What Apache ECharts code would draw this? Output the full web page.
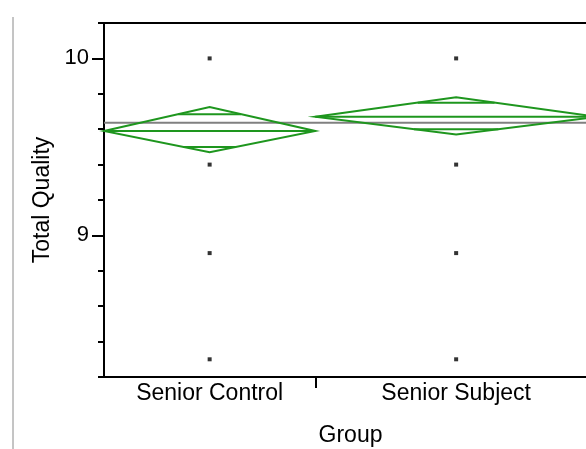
<!DOCTYPE html>
<html>
<head>
<meta charset="utf-8">
<script src="https://cdn.jsdelivr.net/npm/echarts@6/dist/echarts.min.js"></script>
<style>
  html, body { margin: 0; padding: 0; background: #fff; }
  #chart { width: 586px; height: 449px; }
</style>
</head>
<body>
<div id="chart"></div>
<script>
// Group means with confidence diamonds (Total Quality by Group)
const groupNames = ['Senior Control', 'Senior Subject'];
const groupCounts = [30, 40];            // band widths are proportional to group size
const groupMeans = [9.59, 9.67];
const ciLower = [9.47, 9.57];
const ciUpper = [9.725, 9.78];
const overlapLower = [9.50, 9.60];
const overlapUpper = [9.685, 9.75];
const grandMean = 9.637;
const controlScores = [10, 9.4, 8.9, 8.3];
const subjectScores = [10, 9.4, 8.9, 8.3];
const yTickLabels = [9, 10];

const FONT = 'Liberation Sans, Arial, sans-serif';
const GREEN = '#1e961e';

// band geometry along the x value axis
const bandStart = [];
const bandEnd = [];
let acc = 0;
groupCounts.forEach(n => { bandStart.push(acc); acc += n; bandEnd.push(acc); });
const total = acc;
const bandCenter = bandStart.map((s, i) => (s + bandEnd[i]) / 2);
const dividers = bandEnd.slice(0, -1);

const diamondData = groupNames.map((g, i) => [
  bandStart[i], bandEnd[i], groupMeans[i], ciLower[i], ciUpper[i], overlapLower[i], overlapUpper[i]
]);

function renderDiamond(params, api) {
  const x0 = api.value(0), x1 = api.value(1), m = api.value(2);
  const lo = api.value(3), hi = api.value(4), olo = api.value(5), ohi = api.value(6);
  const xc = (x0 + x1) / 2, half = (x1 - x0) / 2;
  const L = api.coord([x0, m]), R = api.coord([x1, m]);
  const T = api.coord([xc, hi]), B = api.coord([xc, lo]);
  const style = { stroke: GREEN, lineWidth: 2, fill: null };
  // overlap marks sit where the diamond is as wide as the mark
  const wU = half * (1 - (ohi - m) / (hi - m));
  const wL = half * (1 - (m - olo) / (m - lo));
  const u0 = api.coord([xc - wU, ohi]), u1 = api.coord([xc + wU, ohi]);
  const l0 = api.coord([xc - wL, olo]), l1 = api.coord([xc + wL, olo]);
  return {
    type: 'group',
    children: [
      { type: 'polygon', shape: { points: [L, T, R, B] }, style },
      { type: 'line', shape: { x1: L[0], y1: L[1], x2: R[0], y2: R[1] }, style },
      { type: 'line', shape: { x1: u0[0], y1: u0[1], x2: u1[0], y2: u1[1] }, style },
      { type: 'line', shape: { x1: l0[0], y1: l0[1], x2: l1[0], y2: l1[1] }, style }
    ]
  };
}

const chart = echarts.init(document.getElementById('chart'), null, { renderer: 'canvas' });

chart.setOption({
  animation: false,
  backgroundColor: '#fff',
  graphic: [{
    type: 'line',
    shape: { x1: 13, y1: 17, x2: 13, y2: 449 },
    style: { stroke: '#8a8a8a', lineWidth: 1 }
  }],
  grid: {
    left: 104, top: 23, width: 493, height: 354,
    outerBoundsMode: 'none',
    containLabel: false,
    show: true, borderColor: '#000', borderWidth: 2, backgroundColor: 'transparent'
  },
  xAxis: {
    type: 'value',
    min: 0, max: total,
    position: 'bottom',
    name: 'Group',
    nameLocation: 'middle',
    nameGap: 47,
    nameTextStyle: { color: '#000', fontSize: 23, fontFamily: FONT },
    axisLine: { show: true, lineStyle: { color: '#000', width: 2 } },
    axisTick: { show: true, customValues: dividers, length: 11, lineStyle: { color: '#000', width: 2 } },
    axisLabel: {
      show: true,
      customValues: bandCenter,
      margin: 5,
      color: '#000', fontSize: 23, fontFamily: FONT,
      formatter: v => {
        const i = bandCenter.findIndex(c => Math.abs(c - v) < 1e-6);
        return i >= 0 ? groupNames[i] : '';
      }
    },
    splitLine: { show: false }
  },
  yAxis: [{
    type: 'value',
    min: 8.2, max: 10.2, interval: 0.2,
    position: 'left',
    name: 'Total Quality',
    nameLocation: 'middle',
    nameGap: 50,
    nameTextStyle: { color: '#000', fontSize: 23, fontFamily: FONT },
    axisLine: { show: true, lineStyle: { color: '#000', width: 2 } },
    axisTick: { show: true, length: 6, lineStyle: { color: '#000', width: 2 } },
    axisLabel: { show: false },
    splitLine: { show: false }
  }, {
    type: 'value',
    min: 8.2, max: 10.2, interval: 0.2,
    position: 'left',
    offset: 0,
    axisLine: { show: false },
    axisTick: { show: true, customValues: yTickLabels, length: 12, lineStyle: { color: '#000', width: 2 } },
    axisLabel: {
      show: true, customValues: yTickLabels, margin: 15,
      color: '#000', fontSize: 22, fontFamily: FONT
    },
    splitLine: { show: false }
  }],
  series: [{
    type: 'line',
    name: 'Grand mean',
    data: [[0, grandMean], [total, grandMean]],
    symbol: 'none',
    lineStyle: { color: '#808080', width: 2 },
    z: 2
  }, {
    type: 'custom',
    name: 'Means diamonds',
    renderItem: renderDiamond,
    data: diamondData,
    encode: { x: [0, 1], y: [3, 4] },
    z: 3
  }, {
    type: 'scatter',
    name: groupNames[0],
    data: controlScores.map(v => [bandCenter[0], v]),
    symbol: 'rect', symbolSize: 4,
    itemStyle: { color: '#000' },
    z: 4
  }, {
    type: 'scatter',
    name: groupNames[1],
    data: subjectScores.map(v => [bandCenter[1], v]),
    symbol: 'rect', symbolSize: 4,
    itemStyle: { color: '#000' },
    z: 4
  }]
});
</script>
</body>
</html>
